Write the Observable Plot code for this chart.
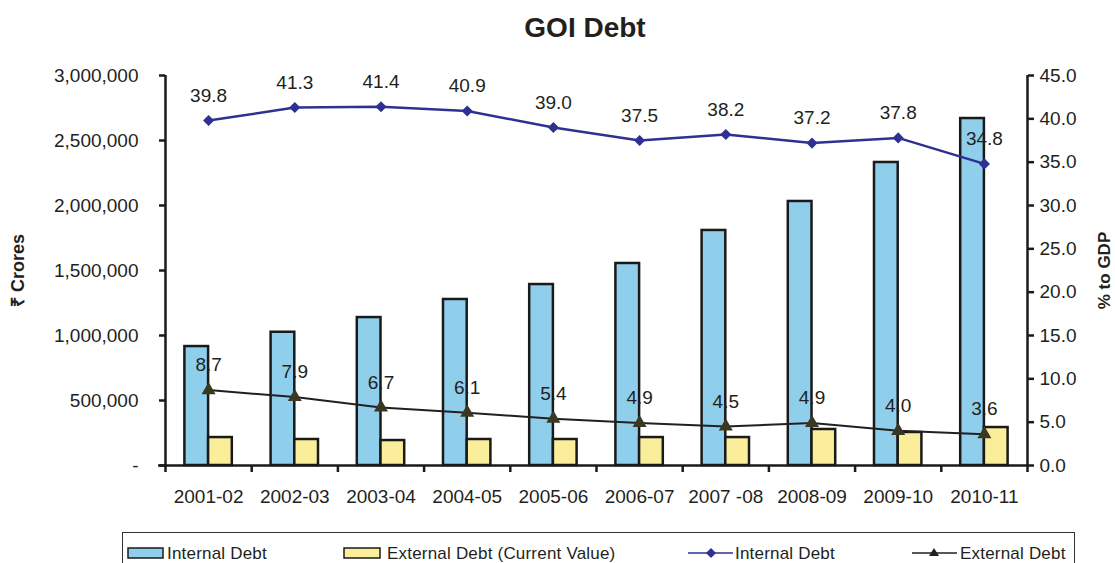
<!DOCTYPE html>
<html>
<head>
<meta charset="utf-8">
<script src="https://cdn.jsdelivr.net/npm/d3@7"></script>
<script src="https://cdn.jsdelivr.net/npm/@observablehq/plot@0.6"></script>
<style>
  html, body { margin: 0; padding: 0; background: #fff; overflow: hidden; }
  #wrap { position: relative; width: 1115px; height: 563px; font-family: "Liberation Sans", Arial, sans-serif; color: #231F20; }
  #title { position: absolute; left: 435px; width: 300px; top: 12px; text-align: center; font-size: 28px; font-weight: bold; line-height: 31px; }
  #chart { position: absolute; left: 0; top: 0; }
  #legend { position: absolute; left: 122px; top: 532px; width: 951px; height: 40px; border: 1.5px solid #333; border-bottom: none; font-size: 17px; }
  .lt { position: absolute; top: 12px; line-height: 17px; white-space: nowrap; letter-spacing: 0.2px; }
  .ls { position: absolute; top: 14px; }
</style>
</head>
<body>
<div id="wrap">
  <div id="chart"></div>
  <div id="title">GOI Debt</div>
  <div id="legend">
    <svg class="ls" style="left:4px" width="38" height="12"><rect x="1" y="1" width="35" height="10" fill="#8FCFEC" stroke="#1a1a1a" stroke-width="1.5"/></svg>
    <span class="lt" style="left:44px">Internal Debt</span>
    <svg class="ls" style="left:220px" width="39" height="12"><rect x="1" y="1" width="36" height="10" fill="#FBEE9B" stroke="#1a1a1a" stroke-width="1.5"/></svg>
    <span class="lt" style="left:264px">External Debt (Current Value)</span>
    <svg class="ls" style="left:565px;top:13px" width="46" height="14"><line x1="0" y1="7" x2="45" y2="7" stroke="#2E3192" stroke-width="1.5"/><path d="M23,2 L28,7 L23,12 L18,7 Z" fill="#2E3192"/></svg>
    <span class="lt" style="left:612px">Internal Debt</span>
    <svg class="ls" style="left:789px;top:13px" width="46" height="14"><line x1="0" y1="7" x2="45" y2="7" stroke="#231F20" stroke-width="1.5"/><path d="M22,2 L27,10 L17,10 Z" fill="#231F20"/></svg>
    <span class="lt" style="left:837px">External Debt</span>
  </div>
</div>
<script>
const categories = ["2001-02", "2002-03", "2003-04", "2004-05", "2005-06", "2006-07", "2007 -08", "2008-09", "2009-10", "2010-11"];
const internalDebt = [915000, 1025000, 1138000, 1277000, 1392000, 1554000, 1808000, 2031000, 2331000, 2669000];
const externalDebt = [215000, 200000, 192000, 200000, 200000, 215000, 215000, 277000, 254000, 292000];
const internalPct = [39.8, 41.3, 41.4, 40.9, 39.0, 37.5, 38.2, 37.2, 37.8, 34.8];
const externalPct = [8.7, 7.9, 6.7, 6.1, 5.4, 4.9, 4.5, 4.9, 4.0, 3.6];
const leftTicks = [0, 500000, 1000000, 1500000, 2000000, 2500000, 3000000];
const rightTicks = [0, 5, 10, 15, 20, 25, 30, 35, 40, 45];
const leftLabel = "₹ Crores";
const rightLabel = "% to GDP";

const leftMax = 3000000, rightMax = 45;
const k = leftMax / rightMax;
const idx = d3.range(categories.length);
const font = "Liberation Sans, Arial, sans-serif";
const ink = "#231F20";

const chart = Plot.plot({
  width: 1115,
  height: 563,
  marginLeft: 165,
  marginRight: 88,
  marginTop: 75,
  marginBottom: 98,
  style: { fontFamily: font, fontSize: "19px", color: ink, background: "transparent", overflow: "visible" },
  x: { type: "linear", domain: [0, categories.length], axis: null },
  y: { domain: [0, leftMax], axis: null },
  marks: [
    // bars
    Plot.rectY(idx, { x1: i => i + 0.225, x2: i => i + 0.5, y1: 0, y2: i => internalDebt[i], fill: "#8FCFEC", stroke: "#1a1a1a", strokeWidth: 2.5 }),
    Plot.rectY(idx, { x1: i => i + 0.5, x2: i => i + 0.775, y1: 0, y2: i => externalDebt[i], fill: "#FBEE9B", stroke: "#1a1a1a", strokeWidth: 2.5 }),
    // axis lines
    Plot.ruleX([0], { stroke: "#1a1a1a", strokeWidth: 2.5 }),
    Plot.ruleX([categories.length], { stroke: "#1a1a1a", strokeWidth: 2.5 }),
    Plot.ruleY([0], { stroke: "#1a1a1a", strokeWidth: 2.5, x1: -0.08, x2: categories.length }),
    // x axis: boundary ticks and centered labels
    Plot.axisX(d3.range(categories.length + 1), { tickSize: 7, tickFormat: () => "", stroke: "#1a1a1a", strokeWidth: 2.5, label: null }),
    Plot.axisX(idx.map(i => i + 0.5), { tickSize: 0, tickPadding: 24, tickFormat: d => categories[Math.floor(d)], fontSize: 19, label: null }),
    // left axis
    Plot.axisY(leftTicks, { anchor: "left", tickSize: 6, tickPadding: 21, strokeWidth: 2.5, stroke: "#1a1a1a", tickFormat: d => d === 0 ? "-" : d3.format(",")(d), fontSize: 19, label: null }),
    // right axis
    Plot.axisY(rightTicks.map(v => v * k), { anchor: "right", tickSize: 6, tickPadding: 6, strokeWidth: 2.5, stroke: "#1a1a1a", tickFormat: d => (d / k).toFixed(1), fontSize: 19, label: null }),
    // axis titles
    Plot.text([leftLabel], { text: d => d, frameAnchor: "left", textAnchor: "middle", rotate: -90, dx: -147, fontSize: 18, fontWeight: "bold", fill: ink }),
    Plot.text([rightLabel], { text: d => d, frameAnchor: "right", textAnchor: "middle", rotate: -90, dx: 77, fontSize: 17, fontWeight: "bold", fill: ink }),
    // internal % line
    Plot.line(idx, { x: i => i + 0.5, y: i => internalPct[i] * k, stroke: "#2E3192", strokeWidth: 2.5 }),
    Plot.dot(idx, { x: i => i + 0.5, y: i => internalPct[i] * k, symbol: "diamond2", r: 5, fill: "#2E3192" }),
    Plot.text(idx, { x: i => i + 0.5, y: i => internalPct[i] * k, text: i => internalPct[i].toFixed(1), dy: -25, fontSize: 19, fill: ink }),
    // external % line
    Plot.line(idx, { x: i => i + 0.5, y: i => externalPct[i] * k, stroke: ink, strokeWidth: 2 }),
    Plot.dot(idx, { x: i => i + 0.5, y: i => externalPct[i] * k, symbol: "triangle", r: 5.2, fill: "#3A3822" }),
    Plot.text(idx, { x: i => i + 0.5, y: i => externalPct[i] * k, text: i => externalPct[i].toFixed(1), dy: -25, fontSize: 19, fill: ink })
  ]
});
document.getElementById("chart").appendChild(chart);
</script>
</body>
</html>
